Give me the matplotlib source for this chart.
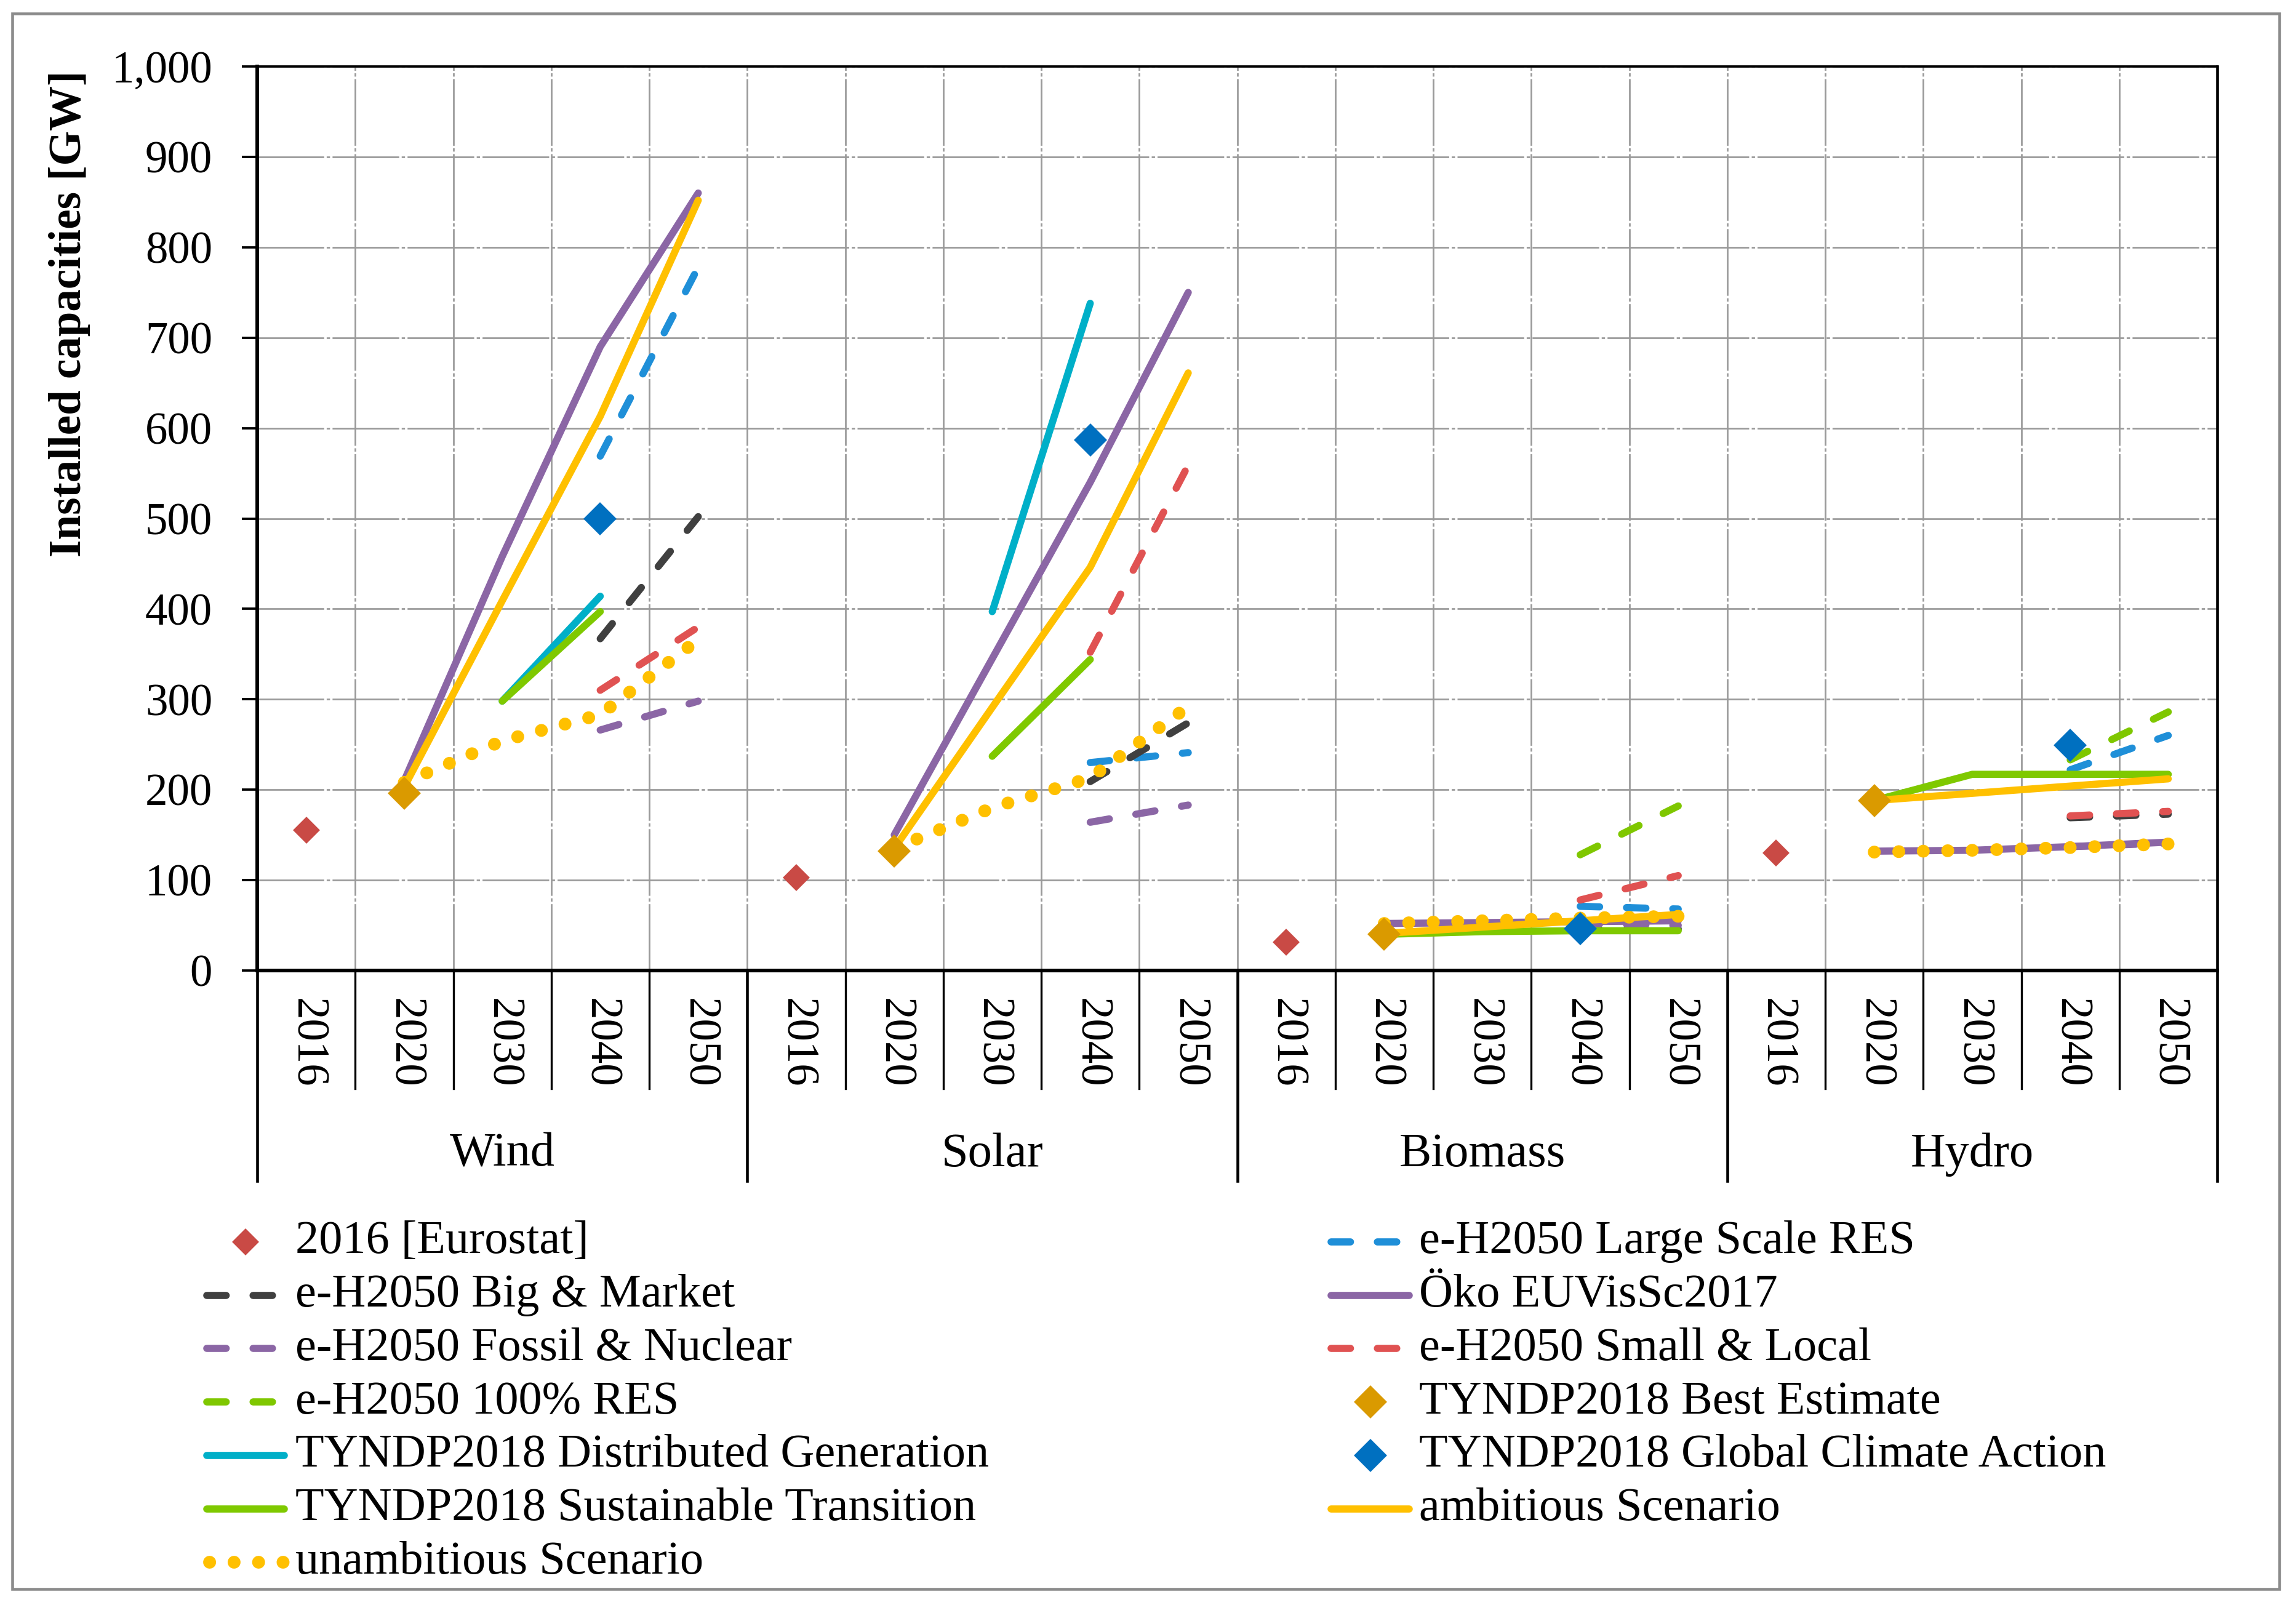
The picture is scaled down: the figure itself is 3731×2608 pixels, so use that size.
import matplotlib
matplotlib.use('Agg')
import matplotlib.pyplot as plt
from matplotlib.lines import Line2D
from matplotlib.patches import Rectangle
from matplotlib.ticker import FuncFormatter
import numpy as np

plt.rcParams['font.family'] = ['Liberation Serif', 'DejaVu Serif']

# ── DATA ───────────────────────────────────────────────────
techs = ['Wind', 'Solar', 'Biomass', 'Hydro']
years = ['2016', '2020', '2030', '2040', '2050']
N = None

# one value per (tech, year) slot: Wind 2016..2050, Solar ..., Biomass ..., Hydro ...
eurostat    = [155, N, N, N, N,   103, N, N, N, N,   31, N, N, N, N,   130, N, N, N, N]
large_scale = [N, N, N, 569, 778, N, N, N, 230, 241, N, N, N, 71, 68,  N, N, N, 222, 260]
big_market  = [N, N, N, 367, 502, N, N, N, 209, 274, N, N, N, 45, 46,  N, N, N, 169, 173]
oeko        = [N, 210, 458, 690, 860, N, 150, 345, 540, 750, N, 52, 53, 54, 55, N, 132, 133, 137, 142]
fossil      = [N, N, N, 266, 298, N, N, N, 164, 183, N, N, N, 52, 50,  N, N, N, 137, 141]
small_local = [N, N, N, 310, 380, N, N, N, 352, 559, N, N, N, 78, 105, N, N, N, 171, 176]
res100      = [N, N, N, N, N,     N, N, N, N, N,     N, N, N, 128, 182, N, N, N, 233, 286]
best_est    = [N, 196, N, N, N,   N, 132, N, N, N,   N, 40, N, N, N,   N, 188, N, N, N]
dist_gen    = [N, N, 298, 414, N, N, N, 397, 738, N, N, N, N, N, N,    N, N, N, N, N]
gca         = [N, N, N, 500, N,   N, N, N, 587, N,   N, N, N, 46, N,   N, N, N, 249, N]
sust_trans  = [N, N, 298, 397, N, N, N, 237, 344, N, N, 40, 43, 44, 44, N, 188, 217, 217, 217]
ambitious   = [N, 203, 409, 613, 852, N, 135, 291, 446, 661, N, 41, 48, 55, 62, N, 188, 196, 204, 212]
unambitious = [N, 208, 254, 283, 366, N, 135, 180, 213, 292, N, 52, 55, 58, 60, N, 131, 133, 136, 140]

# legend / drawing order (Excel series order)
series = [
    ('2016 [Eurostat]',                  eurostat,    '#C94A45', 'marker'),
    ('e-H2050 Large Scale RES',          large_scale, '#1F8FD8', 'dash'),
    ('e-H2050 Big & Market',             big_market,  '#404040', 'dash'),
    ('Öko EUVisSc2017',                  oeko,        '#8B66A5', 'solid'),
    ('e-H2050 Fossil & Nuclear',         fossil,      '#8B66A5', 'dash'),
    ('e-H2050 Small & Local',            small_local, '#E05252', 'dash'),
    ('e-H2050 100% RES',                 res100,      '#7FC700', 'dash'),
    ('TYNDP2018 Best Estimate',          best_est,    '#DA9A00', 'marker'),
    ('TYNDP2018 Distributed Generation', dist_gen,    '#00AFC8', 'solid'),
    ('TYNDP2018 Global Climate Action',  gca,         '#0070C0', 'marker'),
    ('TYNDP2018 Sustainable Transition', sust_trans,  '#7FC900', 'solid'),
    ('ambitious Scenario',               ambitious,   '#FFC000', 'solid'),
    ('unambitious Scenario',             unambitious, '#FFC000', 'dot'),
]

# ── STYLE ──────────────────────────────────────────────────
W, H = 3731, 2608
DPI = 300
FS = 17.5
FS_LEG = 18.3
FS_GRP = 18.8
LW = 2.8

def style(kind, color, label):
    if kind == 'marker':
        ms = 6.6 if label.startswith('2016') else 8.0
        return dict(linestyle='none', marker='D', ms=ms, color=color, mec=color)
    if kind == 'solid':
        return dict(lw=LW, color=color, solid_capstyle='round', solid_joinstyle='round')
    if kind == 'dash':
        return dict(lw=LW, color=color, dashes=(2.7, 3.75), dash_capstyle='round')
    return dict(lw=5, color=color, dashes=(0.01, 1.9), dash_capstyle='round')

fig = plt.figure(figsize=(W / DPI, H / DPI), dpi=DPI)
fig.patch.set_facecolor('white')

L, R, T, B = 418, 3603, 108, 1577
ax = fig.add_axes([L / W, 1 - B / H, (R - L) / W, (B - T) / H])

nslot = len(techs) * len(years)
x = np.arange(nslot) + 0.5

for i, (label, vals, color, kind) in enumerate(series):
    y = np.array([np.nan if v is None else v for v in vals], dtype=float)
    z = 20 if kind == 'marker' else 3 + i
    ax.plot(x, y, zorder=z, clip_on=False, **style(kind, color, label))

ax.set_xlim(0, nslot)
ax.set_ylim(0, 1000)
ax.set_yticks(np.arange(0, 1001, 100))
ax.yaxis.set_major_formatter(FuncFormatter(lambda v, p: f'{int(v):,}'))
ax.set_xticks(np.arange(0, nslot + 1))
ax.set_xticklabels([])
ax.tick_params(axis='x', length=0)
ax.tick_params(axis='y', direction='out', length=6, width=0.9, pad=11.5,
               labelsize=FS, colors='black')

ax.grid(True, color='#9a9a9a', lw=0.65, linestyle=(0, (40, 1.5, 2, 1.5)), zorder=0)
ax.set_axisbelow(True)

ax.spines['left'].set_linewidth(1.4)
ax.spines['bottom'].set_linewidth(1.4)
ax.spines['top'].set_linewidth(0.9)
ax.spines['right'].set_linewidth(1.1)
for s in ax.spines.values():
    s.set_color('black')

# category axis below the plot
xt = ax.get_xaxis_transform()
for i in range(nslot + 1):
    if i % len(years) == 0:
        ax.plot([i, i], [0, -0.2327], transform=xt, color='black', lw=1.1, clip_on=False)
    else:
        ax.plot([i, i], [0, -0.1306], transform=xt, color='black', lw=0.8, clip_on=False)

for g, tech in enumerate(techs):
    for k, yr in enumerate(years):
        ax.text(g * len(years) + k + 0.5, -0.0800, yr, transform=xt, rotation=270,
                ha='center', va='center', fontsize=FS)
    ax.text(g * len(years) + len(years) / 2, -0.2035, tech, transform=xt,
            ha='center', va='center', fontsize=FS_GRP)

fig.text(113 / W, 1 - 510 / H, 'Installed capacities [GW]', rotation=90,
         ha='center', va='center', fontsize=FS, fontweight='bold')

# ── LEGEND (two columns, Excel row-major order) ────────────
row_y0, row_dy = 2018, 86.7
cols = [(330, 468, 480), (2157, 2296, 2306)]
for idx, (label, vals, color, kind) in enumerate(series):
    r, c = divmod(idx, 2)
    hx0, hx1, tx = cols[c]
    yy = 1 - (row_y0 + r * row_dy) / H
    st = style(kind, color, label)
    if kind == 'marker':
        xs = [(hx0 + hx1) / 2 / W]
        ys = [yy]
    elif kind == 'dash':
        xs = [(hx0 + 6) / W, (hx1 - 18) / W]
        ys = [yy, yy]
    elif kind == 'dot':
        xs = [(hx0 + 10) / W, (hx1 - 8) / W]
        ys = [yy, yy]
    else:
        xs = [(hx0 + 6) / W, (hx1 - 6) / W]
        ys = [yy, yy]
    fig.add_artist(Line2D(xs, ys, transform=fig.transFigure, **st))
    fig.text(tx / W, yy, label, ha='left', va='center', fontsize=FS_LEG)

# outer frame
fig.add_artist(Rectangle((20 / W, 1 - 2582 / H), (3704 - 20) / W, (2582 - 22) / H,
                         transform=fig.transFigure, fill=False, ec='#8c8c8c', lw=1.1))

fig.savefig('out.png', dpi=DPI, facecolor='white')
